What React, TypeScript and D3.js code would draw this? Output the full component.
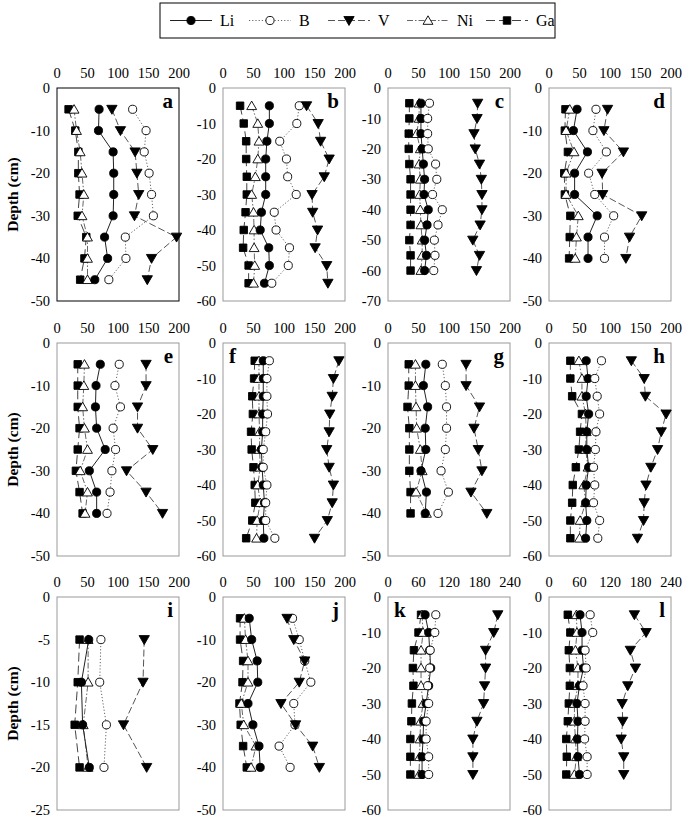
import React from "react";
import * as d3 from "d3";

const panelLetters = ["a", "b", "c", "d", "e", "f", "g", "h", "i", "j", "k", "l"];
const xMaxes = [200, 200, 200, 200, 200, 200, 200, 200, 200, 200, 240, 240];
const xTickSteps = [50, 50, 50, 50, 50, 50, 50, 50, 50, 50, 60, 60];
const yMins = [-50, -60, -70, -50, -50, -60, -50, -60, -25, -50, -60, -60];
const yTickSteps = [10, 10, 10, 10, 10, 10, 10, 10, 5, 10, 10, 10];
const letterLeft = [false, false, false, false, false, true, false, false, false, false, true, false];

const depths = [
  [-5, -10, -15, -20, -25, -30, -35, -40, -45],
  [-5, -10, -15, -20, -25, -30, -35, -40, -45, -50, -55],
  [-5, -10, -15, -20, -25, -30, -35, -40, -45, -50, -55, -60],
  [-5, -10, -15, -20, -25, -30, -35, -40],
  [-5, -10, -15, -20, -25, -30, -35, -40],
  [-5, -10, -15, -20, -25, -30, -35, -40, -45, -50, -55],
  [-5, -10, -15, -20, -25, -30, -35, -40],
  [-5, -10, -15, -20, -25, -30, -35, -40, -45, -50, -55],
  [-5, -10, -15, -20],
  [-5, -10, -15, -20, -25, -30, -35, -40],
  [-5, -10, -15, -20, -25, -30, -35, -40, -45, -50],
  [-5, -10, -15, -20, -25, -30, -35, -40, -45, -50],
];

const liValues = [
  [69, 68, 92, 93, 93, 92, 78, 83, 62],
  [76, 76, 72, 70, 70, 70, 63, 61, 75, 76, 68],
  [54, 54, 54, 56, 58, 60, 59, 66, 64, 60, 63, 60],
  [46, 40, 63, 42, 42, 79, 64, 64],
  [71, 64, 63, 65, 79, 53, 65, 65],
  [66, 66, 66, 65, 65, 63, 64, 66, 68, 66, 67],
  [62, 58, 65, 61, 62, 54, 63, 61],
  [61, 64, 61, 65, 62, 62, 65, 61, 60, 62, 60],
  [52, 40, 42, 53],
  [43, 47, 56, 57, 41, 49, 59, 61],
  [73, 80, 82, 84, 80, 75, 70, 69, 67, 67],
  [61, 65, 65, 68, 60, 55, 57, 56, 57, 60],
];

const bValues = [
  [124, 146, 143, 151, 155, 158, 112, 113, 85],
  [125, 121, 93, 104, 106, 120, 84, 87, 109, 107, 80],
  [68, 65, 65, 66, 78, 80, 73, 89, 82, 76, 77, 75],
  [77, 72, 94, 65, 75, 106, 91, 91],
  [102, 95, 104, 92, 96, 90, 87, 82],
  [76, 72, 72, 73, 70, 66, 66, 72, 70, 70, 85],
  [89, 94, 96, 96, 94, 87, 99, 82],
  [86, 75, 79, 83, 77, 76, 73, 75, 73, 83, 80],
  [72, 70, 81, 77],
  [114, 125, 134, 144, 116, 118, 92, 110],
  [94, 92, 83, 82, 78, 80, 75, 75, 80, 80],
  [81, 86, 71, 73, 67, 71, 71, 70, 75, 75],
];

const vValues = [
  [90, 104, 128, 131, 134, 127, 196, 155, 148],
  [137, 156, 160, 174, 166, 146, 147, 155, 151, 170, 172],
  [147, 146, 141, 143, 150, 153, 154, 154, 151, 139, 150, 145],
  [96, 90, 122, 87, 88, 152, 132, 126],
  [146, 146, 132, 132, 157, 114, 146, 173],
  [190, 181, 179, 175, 174, 170, 174, 181, 179, 171, 150],
  [128, 128, 150, 141, 148, 154, 136, 162],
  [135, 156, 158, 192, 184, 178, 167, 159, 156, 155, 145],
  [143, 141, 109, 147],
  [105, 116, 134, 125, 95, 119, 147, 158],
  [216, 208, 192, 192, 190, 188, 175, 167, 167, 167],
  [168, 191, 160, 170, 155, 144, 145, 142, 147, 147],
];

const niValues = [
  [28, 32, 38, 41, 44, 41, 50, 50, 50],
  [47, 57, 59, 57, 53, 47, 50, 51, 51, 52, 50],
  [51, 51, 47, 53, 51, 53, 52, 53, 54, 56, 56, 54],
  [34, 28, 41, 28, 28, 48, 45, 43],
  [45, 44, 42, 45, 50, 38, 50, 46],
  [59, 59, 59, 59, 60, 60, 61, 57, 61, 56, 55],
  [45, 45, 46, 47, 53, 56, 46, 63],
  [49, 54, 54, 60, 61, 60, 64, 57, 60, 51, 50],
  [51, 51, 43, 51],
  [35, 37, 41, 41, 30, 34, 54, 46],
  [67, 69, 65, 65, 65, 69, 64, 63, 62, 61],
  [54, 55, 52, 57, 57, 50, 50, 52, 54, 50],
];

const gaValues = [
  [19, 30, 35, 35, 37, 34, 48, 45, 38],
  [28, 34, 38, 38, 39, 39, 37, 34, 33, 42, 42],
  [35, 35, 34, 34, 35, 37, 37, 37, 37, 35, 37, 37],
  [27, 26, 31, 25, 26, 35, 34, 33],
  [34, 34, 34, 37, 34, 31, 37, 42],
  [52, 51, 48, 49, 46, 47, 50, 52, 53, 48, 38],
  [34, 34, 32, 35, 35, 35, 37, 37],
  [35, 35, 38, 54, 51, 49, 44, 39, 38, 35, 35],
  [37, 34, 29, 37],
  [28, 28, 33, 32, 27, 29, 33, 39],
  [65, 60, 51, 49, 50, 47, 46, 44, 44, 44],
  [37, 42, 39, 41, 41, 39, 37, 34, 35, 34],
];

const seriesNames = ["Li", "B", "V", "Ni", "Ga"];

const FONT = "Liberation Serif, DejaVu Serif, serif";
const colLefts = [57, 223, 388, 549];
const rowTops = [88, 343, 597];
const PW = 122;
const PH = 213;

type Style = {
  symbol: d3.SymbolType;
  size: number;
  fill: string;
  rotate: number;
  dash: string;
  stroke: string;
};

const styles: Record<string, Style> = {
  Li: { symbol: d3.symbolCircle, size: 52, fill: "#000", rotate: 0, dash: "none", stroke: "#222" },
  B: { symbol: d3.symbolCircle, size: 52, fill: "#fff", rotate: 0, dash: "1.2,2", stroke: "#666" },
  V: { symbol: d3.symbolTriangle, size: 46, fill: "#000", rotate: 180, dash: "7,3", stroke: "#555" },
  Ni: { symbol: d3.symbolTriangle, size: 42, fill: "#fff", rotate: 0, dash: "6,2,1.5,2", stroke: "#666" },
  Ga: { symbol: d3.symbolSquare, size: 56, fill: "#000", rotate: 0, dash: "9,4", stroke: "#444" },
};

const drawOrder = ["Ga", "Ni", "Li", "B", "V"];

function valuesFor(name: string, p: number): number[] {
  if (name === "Li") return liValues[p];
  if (name === "B") return bValues[p];
  if (name === "V") return vValues[p];
  if (name === "Ni") return niValues[p];
  return gaValues[p];
}

function Marker({ name, x, y }: { name: string; x: number; y: number }) {
  const st = styles[name];
  const path = d3.symbol().type(st.symbol).size(st.size)() || "";
  const yOff = st.symbol === d3.symbolTriangle ? (st.rotate ? -1 : 1) : 0;
  return (
    <path
      d={path}
      transform={`translate(${x},${y + yOff}) rotate(${st.rotate})`}
      fill={st.fill}
      stroke="#000"
      strokeWidth={0.9}
    />
  );
}

function Panel({ p }: { p: number }) {
  const col = p % 4;
  const row = Math.floor(p / 4);
  const left = colLefts[col];
  const top = rowTops[row];
  const x = d3.scaleLinear().domain([0, xMaxes[p]]).range([0, PW]);
  const y = d3.scaleLinear().domain([0, yMins[p]]).range([0, PH]);
  const xTicks = d3.range(0, xMaxes[p] + 1, xTickSteps[p]);
  const yTicks = d3.range(0, yMins[p] - 1, -yTickSteps[p]);
  const dps = depths[p];
  return (
    <g transform={`translate(${left},${top})`}>
      <rect x={0} y={0} width={PW} height={PH} fill="none" stroke={p === 0 ? "#000" : "#999"} strokeWidth={1} />
      {xTicks.map((t) => (
        <text key={"x" + t} x={x(t)} y={-10} textAnchor="middle" fontFamily={FONT} fontSize={14.5} fill="#000">
          {t}
        </text>
      ))}
      {yTicks.map((t) => (
        <text key={"y" + t} x={-7} y={y(t)} dy="0.35em" textAnchor="end" fontFamily={FONT} fontSize={14.5} fill="#000">
          {t}
        </text>
      ))}
      {drawOrder.map((name) => {
        const vals = valuesFor(name, p);
        const line = d3
          .line<number>()
          .x((v) => x(v))
          .y((_, i) => y(dps[i]));
        return (
          <path
            key={"l" + name}
            d={line(vals) || ""}
            fill="none"
            stroke={styles[name].stroke}
            strokeWidth={1}
            strokeDasharray={styles[name].dash}
          />
        );
      })}
      {drawOrder.map((name) => (
        <g key={"m" + name}>
          {valuesFor(name, p).map((v, i) => (
            <Marker key={i} name={name} x={x(v)} y={y(dps[i])} />
          ))}
        </g>
      ))}
      <text
        x={letterLeft[p] ? 6 : PW - 6}
        y={20}
        textAnchor={letterLeft[p] ? "start" : "end"}
        fontFamily={FONT}
        fontWeight="bold"
        fontSize={21}
        fill="#000"
      >
        {panelLetters[p]}
      </text>
      {col === 0 && (
        <text
          transform={`translate(${-39},${PH / 2}) rotate(-90)`}
          textAnchor="middle"
          fontFamily={FONT}
          fontWeight="bold"
          fontSize={15.5}
          fill="#000"
        >
          Depth (cm)
        </text>
      )}
    </g>
  );
}

function Legend() {
  const lx = 160;
  const ly = 3;
  const lw = 395;
  const lh = 35;
  const itemW = lw / seriesNames.length;
  return (
    <g>
      <rect x={lx} y={ly} width={lw} height={lh} fill="#fff" stroke="#000" strokeWidth={1} />
      {seriesNames.map((name, i) => {
        const x0 = lx + i * itemW;
        const cy = ly + lh / 2;
        const st = styles[name];
        return (
          <g key={name}>
            <line x1={x0 + 10} x2={x0 + 52} y1={cy} y2={cy} stroke={st.stroke} strokeWidth={1} strokeDasharray={st.dash} />
            <Marker name={name} x={x0 + 31} y={cy} />
            <text x={x0 + 60} y={cy} dy="0.35em" fontFamily={FONT} fontSize={16} fill="#000">
              {name}
            </text>
          </g>
        );
      })}
    </g>
  );
}

export default function App() {
  return (
    <svg
      width={685}
      height={817}
      viewBox="0 0 685 817"
      style={{ position: "absolute", left: 0, top: 0, background: "#fff" }}
    >
      <rect x={0} y={0} width={685} height={817} fill="#fff" />
      <Legend />
      {panelLetters.map((_, p) => (
        <Panel key={p} p={p} />
      ))}
    </svg>
  );
}
